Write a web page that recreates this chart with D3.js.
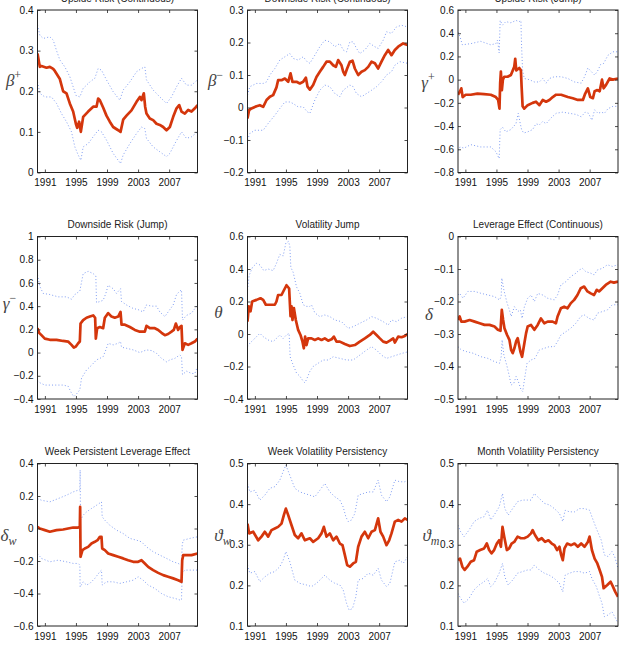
<!DOCTYPE html>
<html>
<head>
<meta charset="utf-8">
<script src="https://cdnjs.cloudflare.com/ajax/libs/d3/7.8.5/d3.min.js"></script>
<style>
  body { margin: 0; background: #fff; }
</style>
</head>
<body>
<div id="chart"></div>
<script>
// x ticks shared by every panel
const yearTicks = [1991, 1995, 1999, 2003, 2007];
const yearDomain = [1990.05, 2010.65];

const titles = [
  "Upside Risk (Continuous)", "Downside Risk (Continuous)", "Upside Risk (Jump)",
  "Downside Risk (Jump)", "Volatility Jump", "Leverage Effect (Continuous)",
  "Week Persistent Leverage Effect", "Week Volatility Persistency", "Month Volatility Persistency"
];

// y tick labels per panel
const ticksBetaPlus = [0, 0.1, 0.2, 0.3, 0.4];
const ticksBetaMinus = [-0.2, -0.1, 0, 0.1, 0.2, 0.3];
const ticksGammaPlus = [-0.8, -0.6, -0.4, -0.2, 0, 0.2, 0.4, 0.6];
const ticksGammaMinus = [-0.4, -0.2, 0, 0.2, 0.4, 0.6, 0.8, 1];
const ticksTheta = [-0.4, -0.2, 0, 0.2, 0.4, 0.6];
const ticksDelta = [-0.5, -0.4, -0.3, -0.2, -0.1, 0];
const ticksDeltaW = [-0.6, -0.4, -0.2, 0, 0.2, 0.4];
const ticksVarthW = [0.1, 0.2, 0.3, 0.4, 0.5];
const ticksVarthM = [0.1, 0.2, 0.3, 0.4, 0.5];

// series: [year, value] -- estimate (red) and upper / lower bands (blue dots)
const betaPlusEst = [[1990.05,0.293],[1990.35,0.26],[1990.56,0.262],[1991.21,0.258],[1991.64,0.26],[1992.07,0.255],[1992.28,0.25],[1992.93,0.23],[1993.35,0.2],[1993.78,0.195],[1994.21,0.17],[1994.64,0.15],[1994.99,0.12],[1995.16,0.11],[1995.41,0.125],[1995.63,0.1],[1995.93,0.137],[1996.57,0.15],[1997.22,0.162],[1997.65,0.162],[1997.86,0.182],[1998.08,0.178],[1998.5,0.16],[1998.93,0.14],[1999.36,0.125],[1999.79,0.112],[2000.44,0.104],[2000.74,0.1],[2001.08,0.13],[2001.51,0.14],[2002.15,0.153],[2002.8,0.174],[2003.23,0.186],[2003.44,0.178],[2003.74,0.195],[2003.91,0.162],[2004.08,0.145],[2004.51,0.133],[2004.94,0.129],[2005.37,0.12],[2005.8,0.117],[2006.23,0.112],[2006.66,0.104],[2007.09,0.112],[2007.52,0.137],[2007.95,0.158],[2008.29,0.166],[2008.59,0.15],[2009.02,0.145],[2009.45,0.154],[2009.88,0.15],[2010.31,0.158],[2010.65,0.166]];
const betaPlusHi = [[1990.05,0.363],[1990.35,0.338],[1990.78,0.33],[1991.64,0.334],[1992.07,0.326],[1992.5,0.3],[1992.93,0.277],[1993.57,0.26],[1994.21,0.236],[1994.64,0.211],[1994.99,0.19],[1995.5,0.186],[1995.93,0.207],[1996.79,0.223],[1997.43,0.232],[1997.86,0.256],[1998.29,0.252],[1998.93,0.228],[1999.79,0.199],[2000.65,0.178],[2001.08,0.203],[2001.94,0.223],[2002.8,0.248],[2003.44,0.256],[2003.87,0.26],[2004.08,0.228],[2004.94,0.203],[2005.8,0.186],[2006.66,0.17],[2007.3,0.186],[2007.95,0.211],[2008.59,0.232],[2009.23,0.215],[2009.88,0.215],[2010.65,0.228]];
const betaPlusLo = [[1990.05,0.223],[1990.35,0.195],[1990.99,0.186],[1991.85,0.186],[1992.5,0.17],[1993.14,0.145],[1993.78,0.125],[1994.43,0.1],[1994.86,0.063],[1995.29,0.043],[1995.63,0.03],[1995.93,0.063],[1996.57,0.071],[1997.22,0.088],[1997.86,0.104],[1998.29,0.1],[1998.93,0.08],[1999.79,0.047],[2000.44,0.03],[2000.74,0.022],[2001.08,0.043],[2001.94,0.071],[2002.8,0.096],[2003.44,0.112],[2003.87,0.108],[2004.08,0.084],[2004.94,0.063],[2005.8,0.051],[2006.66,0.039],[2007.09,0.047],[2007.73,0.071],[2008.59,0.1],[2009.23,0.084],[2009.88,0.088],[2010.65,0.1]];

const betaMinusEst = [[1990.05,-0.034],[1990.26,-0.008],[1990.56,-0.003],[1991.21,0.004],[1991.64,0.007],[1992.07,0.002],[1992.5,0.023],[1992.93,0.033],[1993.35,0.038],[1993.78,0.062],[1993.99,0.084],[1994.43,0.084],[1994.86,0.089],[1995.29,0.079],[1995.59,0.105],[1995.84,0.079],[1996.36,0.079],[1996.79,0.074],[1997.22,0.079],[1997.56,0.092],[1997.78,0.064],[1998.08,0.055],[1998.5,0.069],[1998.93,0.094],[1999.36,0.11],[1999.79,0.125],[2000.22,0.141],[2000.65,0.141],[2001.08,0.13],[2001.43,0.125],[2001.72,0.146],[2002.15,0.13],[2002.37,0.11],[2002.58,0.1],[2002.88,0.12],[2003.23,0.141],[2003.57,0.144],[2003.87,0.12],[2004.3,0.1],[2004.73,0.11],[2005.16,0.115],[2005.59,0.125],[2006.02,0.141],[2006.45,0.136],[2006.87,0.12],[2007.3,0.141],[2007.73,0.161],[2008.16,0.177],[2008.59,0.161],[2009.02,0.177],[2009.45,0.187],[2010.09,0.197],[2010.65,0.192]];
const betaMinusHi = [[1990.05,0.038],[1990.35,0.064],[1991.21,0.074],[1992.07,0.074],[1992.5,0.079],[1992.93,0.1],[1993.57,0.12],[1994.21,0.146],[1994.86,0.156],[1995.5,0.166],[1995.93,0.151],[1996.57,0.146],[1997.22,0.156],[1997.73,0.141],[1998.08,0.136],[1998.72,0.161],[1999.36,0.187],[2000.0,0.207],[2000.65,0.202],[2001.3,0.187],[2001.94,0.197],[2002.37,0.177],[2002.8,0.171],[2003.23,0.202],[2003.65,0.202],[2004.08,0.182],[2004.51,0.166],[2005.16,0.177],[2005.8,0.197],[2006.45,0.187],[2006.87,0.182],[2007.52,0.207],[2007.95,0.233],[2008.59,0.228],[2009.23,0.248],[2009.88,0.253],[2010.65,0.248]];
const betaMinusLo = [[1990.05,-0.1],[1990.35,-0.08],[1990.99,-0.07],[1992.07,-0.07],[1992.71,-0.049],[1993.57,-0.024],[1994.21,-0.003],[1994.86,0.017],[1995.5,0.017],[1995.93,0.012],[1996.57,0.002],[1997.22,0.002],[1997.73,-0.013],[1998.08,-0.018],[1998.72,0.023],[1999.36,0.053],[2000.0,0.069],[2000.65,0.064],[2001.3,0.043],[2001.94,0.033],[2002.37,0.053],[2003.23,0.069],[2003.65,0.064],[2004.08,0.043],[2004.73,0.033],[2005.37,0.043],[2006.02,0.053],[2006.66,0.064],[2007.3,0.079],[2007.95,0.1],[2008.59,0.11],[2009.02,0.13],[2009.66,0.141],[2010.65,0.136]];

const gammaPlusEst = [[1990.05,-0.13],[1990.31,-0.1],[1990.48,-0.075],[1990.65,-0.15],[1991.04,-0.13],[1991.69,-0.13],[1992.55,-0.12],[1993.41,-0.125],[1994.27,-0.13],[1994.92,-0.15],[1995.22,-0.175],[1995.39,-0.25],[1995.48,-0.03],[1995.57,0.07],[1995.7,-0.09],[1995.83,0],[1996.0,0.025],[1996.43,0.025],[1996.86,0.04],[1997.29,0.11],[1997.42,0.18],[1997.55,0.08],[1997.94,0.1],[1998.15,0.08],[1998.24,-0.06],[1998.37,-0.23],[1998.58,-0.25],[1999.02,-0.22],[1999.66,-0.2],[2000.09,-0.19],[2000.52,-0.22],[2000.96,-0.175],[2001.39,-0.19],[2001.82,-0.175],[2002.25,-0.15],[2002.68,-0.13],[2003.33,-0.13],[2004.19,-0.15],[2004.83,-0.16],[2005.48,-0.175],[2006.13,-0.175],[2006.43,-0.12],[2006.77,-0.075],[2007.08,-0.15],[2007.42,-0.16],[2007.64,-0.1],[2007.99,-0.09],[2008.29,-0.1],[2008.59,0],[2008.8,-0.075],[2009.11,-0.045],[2009.57,0.01],[2010.0,0],[2010.65,0.01]];
const gammaPlusHi = [[1990.05,0.41],[1990.31,0.37],[1990.61,0.3],[1991.69,0.31],[1992.98,0.33],[1994.27,0.3],[1994.92,0.31],[1995.14,0.34],[1995.35,0.23],[1995.48,0.51],[1995.78,0.47],[1996.21,0.5],[1996.86,0.49],[1997.51,0.51],[1997.94,0.5],[1998.15,0.51],[1998.24,0.28],[1998.37,0.08],[1998.58,0.01],[1999.23,0],[1999.88,-0.02],[2000.52,-0.02],[2000.96,0.01],[2001.39,-0.03],[2001.82,0.01],[2002.46,0.025],[2003.33,0.025],[2004.19,0.01],[2005.05,-0.02],[2005.91,-0.03],[2006.34,0.025],[2006.77,0.1],[2007.2,0.07],[2007.64,0.04],[2007.99,0.07],[2008.41,0.13],[2008.8,0.14],[2009.36,0.21],[2010.0,0.24],[2010.65,0.24]];
const gammaPlusLo = [[1990.05,-0.61],[1990.31,-0.58],[1990.83,-0.59],[1991.69,-0.56],[1992.98,-0.58],[1994.27,-0.58],[1994.92,-0.62],[1995.35,-0.68],[1995.48,-0.43],[1995.78,-0.41],[1996.21,-0.45],[1996.86,-0.43],[1997.51,-0.38],[1997.81,-0.29],[1998.07,-0.38],[1998.24,-0.43],[1998.5,-0.46],[1999.02,-0.45],[1999.66,-0.43],[2000.09,-0.38],[2000.52,-0.39],[2000.96,-0.36],[2001.39,-0.38],[2002.03,-0.33],[2002.68,-0.29],[2003.54,-0.28],[2004.4,-0.29],[2005.27,-0.3],[2005.91,-0.32],[2006.43,-0.28],[2006.85,-0.29],[2007.29,-0.35],[2007.64,-0.26],[2008.07,-0.29],[2008.5,-0.28],[2008.9,-0.29],[2009.36,-0.25],[2010.0,-0.23],[2010.65,-0.23]];

const gammaMinusEst = [[1990.05,0.21],[1990.26,0.17],[1990.56,0.15],[1990.99,0.12],[1991.64,0.11],[1992.5,0.11],[1993.35,0.1],[1993.99,0.095],[1994.43,0.066],[1994.73,0.043],[1994.99,0.052],[1995.29,0.08],[1995.5,0.095],[1995.59,0.25],[1995.93,0.28],[1996.36,0.3],[1996.79,0.31],[1997.22,0.32],[1997.47,0.3],[1997.56,0.12],[1997.73,0.21],[1998.08,0.22],[1998.5,0.21],[1998.72,0.3],[1998.93,0.32],[1999.15,0.34],[1999.58,0.31],[2000.0,0.3],[2000.44,0.31],[2000.74,0.35],[2000.87,0.24],[2001.3,0.24],[2001.94,0.22],[2002.58,0.195],[2003.23,0.18],[2003.87,0.18],[2004.08,0.23],[2004.51,0.21],[2005.16,0.21],[2005.59,0.195],[2006.02,0.17],[2006.45,0.15],[2006.87,0.16],[2007.3,0.18],[2007.6,0.195],[2007.86,0.25],[2008.16,0.195],[2008.38,0.22],[2008.59,0.23],[2008.72,0.023],[2009.02,0.08],[2009.45,0.066],[2009.88,0.08],[2010.31,0.095],[2010.65,0.12]];
const gammaMinusHi = [[1990.05,0.67],[1990.35,0.57],[1990.78,0.51],[1991.64,0.5],[1992.71,0.48],[1993.78,0.48],[1994.43,0.46],[1994.86,0.5],[1995.5,0.53],[1995.93,0.68],[1996.57,0.7],[1997.22,0.68],[1997.56,0.66],[1997.65,0.43],[1998.08,0.44],[1998.5,0.45],[1998.85,0.51],[1999.15,0.58],[1999.79,0.55],[2000.22,0.51],[2000.74,0.55],[2000.87,0.44],[2001.51,0.41],[2002.37,0.38],[2003.01,0.37],[2003.65,0.35],[2004.08,0.41],[2004.73,0.4],[2005.37,0.4],[2005.8,0.35],[2006.45,0.31],[2006.87,0.35],[2007.52,0.41],[2007.95,0.5],[2008.38,0.53],[2008.59,0.54],[2008.72,0.28],[2009.23,0.32],[2009.88,0.34],[2010.65,0.41]];
const gammaMinusLo = [[1990.05,-0.24],[1990.35,-0.26],[1990.99,-0.28],[1992.07,-0.28],[1993.35,-0.28],[1993.99,-0.29],[1994.43,-0.35],[1994.73,-0.38],[1995.16,-0.35],[1995.5,-0.32],[1995.72,-0.22],[1996.36,-0.15],[1997.0,-0.11],[1997.65,-0.063],[1998.08,-0.05],[1998.5,-0.035],[1998.85,0.023],[1999.15,0.08],[1999.79,0.066],[2000.44,0.08],[2000.74,0.095],[2000.87,0.046],[2001.51,0.037],[2002.37,0.023],[2003.23,0],[2004.08,0.023],[2004.73,0.017],[2005.37,-0.006],[2006.02,-0.05],[2006.66,-0.08],[2007.09,-0.063],[2007.73,-0.05],[2008.38,-0.02],[2008.59,-0.035],[2008.72,-0.19],[2009.23,-0.16],[2009.88,-0.18],[2010.31,-0.18],[2010.65,-0.12]];

const thetaEst = [[1990.05,0.076],[1990.22,0.17],[1990.44,0.14],[1990.65,0.2],[1991.21,0.21],[1991.72,0.22],[1992.07,0.21],[1992.41,0.18],[1992.93,0.18],[1993.57,0.18],[1993.78,0.2],[1993.99,0.24],[1994.43,0.24],[1994.64,0.26],[1995.07,0.3],[1995.41,0.28],[1995.59,0.11],[1995.72,0.17],[1995.84,0.086],[1996.02,0.16],[1996.27,0.086],[1996.57,0.025],[1996.87,-0.006],[1997.13,-0.047],[1997.3,-0.088],[1997.47,-0.016],[1997.65,-0.068],[1997.86,-0.027],[1998.29,-0.027],[1998.72,-0.037],[1999.15,-0.027],[1999.58,-0.037],[2000.0,-0.027],[2000.44,-0.041],[2000.87,-0.033],[2001.17,-0.016],[2001.51,-0.047],[2001.94,-0.047],[2002.58,-0.062],[2003.23,-0.074],[2003.87,-0.068],[2004.51,-0.047],[2005.16,-0.027],[2005.8,-0.006],[2006.23,0.014],[2006.66,-0.006],[2007.09,-0.027],[2007.52,-0.047],[2007.95,-0.053],[2008.38,-0.041],[2008.81,-0.027],[2009.02,-0.053],[2009.45,-0.016],[2009.88,-0.02],[2010.31,-0.012],[2010.65,0]];
const thetaHi = [[1990.05,0.27],[1990.26,0.36],[1990.69,0.41],[1991.21,0.435],[1991.64,0.425],[1992.15,0.39],[1992.71,0.4],[1993.35,0.39],[1993.78,0.435],[1994.21,0.49],[1994.64,0.48],[1994.99,0.56],[1995.33,0.57],[1995.5,0.54],[1995.63,0.41],[1995.93,0.38],[1996.36,0.29],[1996.79,0.25],[1997.22,0.18],[1997.65,0.17],[1998.08,0.17],[1998.29,0.18],[1998.72,0.13],[1999.36,0.107],[2000.0,0.117],[2000.65,0.107],[2001.3,0.086],[2002.15,0.076],[2003.01,0.035],[2003.65,0.045],[2004.51,0.066],[2005.37,0.086],[2006.02,0.107],[2006.66,0.097],[2007.52,0.076],[2008.16,0.055],[2008.59,0.086],[2009.23,0.076],[2009.88,0.097],[2010.65,0.107]];
const thetaLo = [[1990.05,-0.078],[1990.35,-0.057],[1990.99,-0.027],[1991.64,0.004],[1992.07,-0.016],[1992.71,-0.037],[1993.35,-0.047],[1993.78,-0.027],[1994.21,-0.006],[1994.64,-0.027],[1995.07,-0.006],[1995.41,0.004],[1995.54,-0.14],[1995.84,-0.18],[1996.36,-0.24],[1996.79,-0.26],[1997.22,-0.29],[1997.43,-0.3],[1997.65,-0.28],[1998.08,-0.23],[1998.5,-0.2],[1999.15,-0.18],[1999.79,-0.16],[2000.44,-0.16],[2001.08,-0.14],[2001.94,-0.15],[2002.8,-0.16],[2003.65,-0.16],[2004.51,-0.13],[2005.37,-0.099],[2006.02,-0.078],[2006.66,-0.099],[2007.3,-0.13],[2007.95,-0.15],[2008.59,-0.14],[2009.23,-0.13],[2009.88,-0.12],[2010.65,-0.11]];

const deltaEst = [[1990.05,-0.257],[1990.26,-0.246],[1990.48,-0.262],[1990.9,-0.262],[1991.55,-0.257],[1992.19,-0.262],[1992.83,-0.267],[1993.47,-0.272],[1994.11,-0.272],[1994.75,-0.277],[1995.18,-0.287],[1995.52,-0.29],[1995.69,-0.226],[1995.86,-0.257],[1996.03,-0.282],[1996.37,-0.303],[1996.67,-0.318],[1996.89,-0.349],[1997.1,-0.359],[1997.31,-0.344],[1997.53,-0.323],[1997.74,-0.313],[1998.08,-0.354],[1998.3,-0.37],[1998.6,-0.328],[1998.81,-0.298],[1999.02,-0.277],[1999.45,-0.272],[1999.88,-0.287],[2000.31,-0.272],[2000.73,-0.252],[2001.16,-0.267],[2001.59,-0.262],[2002.23,-0.262],[2002.66,-0.267],[2002.87,-0.246],[2003.3,-0.221],[2003.72,-0.216],[2004.15,-0.221],[2004.58,-0.205],[2005.01,-0.195],[2005.43,-0.18],[2005.86,-0.159],[2006.29,-0.154],[2006.72,-0.169],[2007.14,-0.175],[2007.57,-0.18],[2007.91,-0.164],[2008.21,-0.169],[2008.64,-0.159],[2009.07,-0.149],[2009.71,-0.139],[2010.13,-0.142],[2010.65,-0.139]];
const deltaHi = [[1990.05,-0.18],[1990.26,-0.175],[1990.69,-0.19],[1991.33,-0.169],[1992.19,-0.169],[1993.04,-0.175],[1993.9,-0.18],[1994.75,-0.185],[1995.39,-0.195],[1995.61,-0.185],[1995.69,-0.128],[1995.95,-0.164],[1996.37,-0.205],[1996.67,-0.226],[1996.89,-0.246],[1997.31,-0.216],[1997.74,-0.231],[1998.08,-0.226],[1998.3,-0.252],[1998.6,-0.216],[1999.02,-0.19],[1999.45,-0.18],[1999.88,-0.2],[2000.31,-0.175],[2000.95,-0.18],[2001.59,-0.19],[2002.44,-0.195],[2002.87,-0.18],[2003.3,-0.149],[2003.94,-0.139],[2004.58,-0.123],[2005.22,-0.113],[2005.65,-0.103],[2006.07,-0.098],[2006.5,-0.108],[2007.14,-0.113],[2007.57,-0.118],[2008.0,-0.103],[2008.64,-0.098],[2009.28,-0.087],[2009.92,-0.092],[2010.65,-0.087]];
const deltaLo = [[1990.05,-0.339],[1990.48,-0.349],[1991.12,-0.354],[1991.97,-0.359],[1993.04,-0.37],[1993.9,-0.375],[1994.75,-0.385],[1995.39,-0.39],[1995.61,-0.37],[1995.73,-0.318],[1995.95,-0.364],[1996.37,-0.4],[1996.67,-0.431],[1996.89,-0.457],[1997.23,-0.452],[1997.53,-0.431],[1997.83,-0.447],[1998.17,-0.472],[1998.38,-0.477],[1998.6,-0.441],[1998.94,-0.39],[1999.45,-0.38],[1999.96,-0.375],[2000.52,-0.349],[2001.16,-0.344],[2001.8,-0.339],[2002.44,-0.339],[2002.87,-0.323],[2003.3,-0.303],[2003.94,-0.293],[2004.58,-0.282],[2005.22,-0.267],[2005.86,-0.246],[2006.29,-0.241],[2006.93,-0.252],[2007.57,-0.257],[2008.0,-0.236],[2008.64,-0.231],[2009.28,-0.226],[2009.92,-0.21],[2010.65,-0.21]];

const deltaWEst = [[1990.05,0.01],[1990.35,0],[1990.99,-0.01],[1991.64,-0.02],[1992.5,-0.01],[1993.35,-0.006],[1993.99,0],[1994.64,0.006],[1995.29,0.006],[1995.5,0.01],[1995.54,0.133],[1995.59,-0.174],[1995.84,-0.133],[1996.14,-0.123],[1996.57,-0.113],[1997.0,-0.092],[1997.43,-0.082],[1997.78,-0.072],[1998.08,-0.051],[1998.29,-0.051],[1998.38,-0.123],[1998.72,-0.133],[1999.15,-0.154],[1999.79,-0.164],[2000.44,-0.174],[2001.08,-0.184],[2001.72,-0.195],[2002.37,-0.205],[2003.01,-0.205],[2003.44,-0.195],[2003.87,-0.215],[2004.3,-0.236],[2004.94,-0.256],[2005.59,-0.273],[2006.23,-0.287],[2006.87,-0.297],[2007.52,-0.307],[2008.16,-0.318],[2008.59,-0.328],[2008.68,-0.195],[2008.81,-0.164],[2009.23,-0.164],[2009.88,-0.164],[2010.65,-0.154]];
const deltaWHi = [[1990.05,0.184],[1990.56,0.174],[1991.64,0.164],[1992.71,0.184],[1993.78,0.205],[1994.64,0.225],[1995.29,0.236],[1995.5,0.236],[1995.54,0.36],[1995.59,0.051],[1995.93,0.082],[1996.36,0.102],[1997.0,0.123],[1997.65,0.143],[1998.29,0.164],[1998.38,0.072],[1998.72,0.051],[1999.36,0.02],[2000.22,-0.01],[2001.08,-0.031],[2001.94,-0.061],[2002.8,-0.072],[2003.44,-0.082],[2004.08,-0.113],[2004.94,-0.143],[2005.8,-0.164],[2006.66,-0.184],[2007.52,-0.205],[2008.16,-0.215],[2008.59,-0.225],[2008.68,-0.102],[2008.81,-0.072],[2009.66,-0.061],[2010.65,-0.051]];
const deltaWLo = [[1990.05,-0.154],[1990.56,-0.184],[1991.64,-0.205],[1992.71,-0.195],[1993.78,-0.205],[1994.64,-0.215],[1995.29,-0.215],[1995.5,-0.225],[1995.54,-0.36],[1995.93,-0.328],[1996.36,-0.348],[1996.79,-0.338],[1997.43,-0.307],[1998.08,-0.266],[1998.29,-0.256],[1998.38,-0.348],[1998.93,-0.328],[1999.79,-0.328],[2000.65,-0.338],[2001.51,-0.328],[2002.37,-0.318],[2003.01,-0.297],[2003.65,-0.318],[2004.3,-0.348],[2005.16,-0.369],[2006.02,-0.4],[2006.87,-0.42],[2007.73,-0.43],[2008.38,-0.44],[2008.59,-0.44],[2008.68,-0.277],[2009.02,-0.256],[2009.88,-0.256],[2010.65,-0.256]];

const varthWEst = [[1990.05,0.352],[1990.26,0.328],[1990.78,0.332],[1991.42,0.311],[1991.85,0.32],[1992.28,0.332],[1992.71,0.32],[1993.14,0.336],[1993.57,0.34],[1993.99,0.344],[1994.43,0.352],[1994.73,0.373],[1994.99,0.389],[1995.29,0.373],[1995.72,0.348],[1996.14,0.324],[1996.57,0.316],[1997.0,0.328],[1997.43,0.311],[1998.08,0.316],[1998.5,0.307],[1999.15,0.316],[1999.58,0.328],[1999.88,0.344],[2000.22,0.32],[2000.65,0.328],[2001.08,0.311],[2001.51,0.32],[2001.94,0.303],[2002.28,0.299],[2002.58,0.275],[2002.88,0.25],[2003.23,0.246],[2003.65,0.254],[2004.0,0.258],[2004.3,0.295],[2004.73,0.32],[2005.16,0.332],[2005.59,0.316],[2006.02,0.332],[2006.45,0.336],[2006.87,0.365],[2007.17,0.332],[2007.52,0.32],[2007.95,0.299],[2008.29,0.311],[2008.59,0.328],[2009.02,0.357],[2009.45,0.361],[2009.88,0.357],[2010.31,0.365],[2010.65,0.361]];
const varthWHi = [[1990.05,0.451],[1990.35,0.43],[1990.99,0.434],[1991.64,0.41],[1992.28,0.422],[1992.93,0.439],[1993.57,0.443],[1994.21,0.459],[1994.64,0.48],[1994.99,0.496],[1995.5,0.471],[1996.14,0.439],[1996.79,0.43],[1997.43,0.426],[1998.08,0.422],[1998.72,0.418],[1999.36,0.434],[2000.0,0.451],[2000.65,0.43],[2001.3,0.418],[2001.94,0.41],[2002.37,0.393],[2002.71,0.369],[2003.01,0.357],[2003.44,0.361],[2003.87,0.377],[2004.3,0.422],[2004.94,0.426],[2005.59,0.43],[2006.23,0.43],[2006.87,0.459],[2007.3,0.422],[2007.95,0.406],[2008.38,0.418],[2009.02,0.459],[2009.66,0.455],[2010.31,0.455],[2010.65,0.459]];
const varthWLo = [[1990.05,0.25],[1990.35,0.23],[1990.99,0.234],[1991.64,0.209],[1992.28,0.221],[1992.93,0.23],[1993.57,0.234],[1994.21,0.246],[1994.64,0.262],[1994.99,0.283],[1995.5,0.258],[1996.14,0.213],[1996.79,0.205],[1997.65,0.201],[1998.29,0.197],[1998.93,0.205],[2000.0,0.225],[2000.65,0.213],[2001.3,0.205],[2001.94,0.201],[2002.37,0.189],[2002.8,0.156],[2003.14,0.139],[2003.57,0.143],[2004.0,0.172],[2004.3,0.213],[2004.94,0.217],[2005.59,0.23],[2006.23,0.225],[2006.87,0.242],[2007.3,0.213],[2007.95,0.197],[2008.38,0.205],[2009.02,0.258],[2009.66,0.262],[2010.09,0.254],[2010.65,0.27]];

const varthMEst = [[1990.05,0.262],[1990.31,0.266],[1990.61,0.246],[1990.91,0.238],[1991.26,0.246],[1991.69,0.258],[1992.12,0.262],[1992.46,0.283],[1992.9,0.287],[1993.41,0.291],[1993.76,0.303],[1994.06,0.287],[1994.36,0.279],[1994.7,0.287],[1995.05,0.303],[1995.35,0.311],[1995.57,0.295],[1995.78,0.344],[1996.0,0.32],[1996.34,0.287],[1996.64,0.291],[1996.95,0.303],[1997.29,0.307],[1997.72,0.32],[1998.15,0.316],[1998.58,0.316],[1999.02,0.32],[1999.45,0.328],[1999.66,0.336],[1999.96,0.324],[2000.39,0.311],[2000.83,0.316],[2001.26,0.307],[2001.69,0.311],[2002.12,0.303],[2002.46,0.299],[2002.81,0.287],[2003.11,0.295],[2003.33,0.275],[2003.54,0.262],[2003.76,0.291],[2004.1,0.303],[2004.62,0.299],[2005.05,0.303],[2005.48,0.295],[2005.91,0.303],[2006.34,0.295],[2006.77,0.307],[2006.99,0.32],[2007.29,0.287],[2007.64,0.266],[2007.99,0.254],[2008.29,0.238],[2008.59,0.221],[2008.8,0.193],[2009.27,0.201],[2009.7,0.209],[2010.0,0.197],[2010.3,0.184],[2010.65,0.172]];
const varthMHi = [[1990.05,0.348],[1990.39,0.332],[1990.83,0.32],[1991.47,0.336],[1992.12,0.357],[1992.77,0.365],[1993.41,0.369],[1993.84,0.385],[1994.27,0.361],[1994.7,0.373],[1995.35,0.393],[1995.78,0.426],[1996.08,0.389],[1996.52,0.373],[1997.08,0.389],[1997.72,0.406],[1998.37,0.41],[1999.02,0.41],[1999.45,0.41],[1999.88,0.426],[2000.52,0.414],[2001.17,0.402],[2001.82,0.398],[2002.46,0.389],[2003.11,0.377],[2003.54,0.357],[2003.84,0.385],[2004.4,0.381],[2005.05,0.381],[2005.7,0.389],[2006.34,0.389],[2006.99,0.385],[2007.29,0.369],[2007.86,0.34],[2008.5,0.311],[2008.9,0.275],[2009.36,0.271],[2009.87,0.283],[2010.22,0.271],[2010.65,0.242]];
const varthMLo = [[1990.05,0.18],[1990.39,0.168],[1990.83,0.156],[1991.47,0.168],[1992.12,0.189],[1992.77,0.201],[1993.41,0.209],[1993.84,0.217],[1994.27,0.197],[1994.7,0.205],[1995.35,0.23],[1995.78,0.254],[1996.08,0.221],[1996.52,0.201],[1997.08,0.213],[1997.72,0.23],[1998.37,0.234],[1999.02,0.238],[1999.45,0.238],[1999.88,0.25],[2000.52,0.238],[2001.17,0.23],[2001.82,0.225],[2002.46,0.217],[2003.11,0.205],[2003.54,0.184],[2003.84,0.225],[2004.4,0.23],[2005.05,0.234],[2005.7,0.234],[2006.34,0.23],[2006.99,0.234],[2007.29,0.217],[2007.86,0.197],[2008.29,0.172],[2008.59,0.156],[2008.9,0.123],[2009.36,0.127],[2009.87,0.135],[2010.22,0.123],[2010.65,0.107]];

// panel list: symbol text for the y label
const panels = [
  {sym: "β", sup: "+", ticks: ticksBetaPlus, est: betaPlusEst, hi: betaPlusHi, lo: betaPlusLo},
  {sym: "β", sup: "−", ticks: ticksBetaMinus, est: betaMinusEst, hi: betaMinusHi, lo: betaMinusLo},
  {sym: "γ", sup: "+", ticks: ticksGammaPlus, est: gammaPlusEst, hi: gammaPlusHi, lo: gammaPlusLo},
  {sym: "γ", sup: "−", ticks: ticksGammaMinus, est: gammaMinusEst, hi: gammaMinusHi, lo: gammaMinusLo},
  {sym: "θ", ticks: ticksTheta, est: thetaEst, hi: thetaHi, lo: thetaLo},
  {sym: "δ", ticks: ticksDelta, est: deltaEst, hi: deltaHi, lo: deltaLo},
  {sym: "δ", sub: "w", ticks: ticksDeltaW, est: deltaWEst, hi: deltaWHi, lo: deltaWLo},
  {sym: "ϑ", sub: "w", ticks: ticksVarthW, est: varthWEst, hi: varthWHi, lo: varthWLo},
  {sym: "ϑ", sub: "m", ticks: ticksVarthM, est: varthMEst, hi: varthMHi, lo: varthMLo}
];

// layout
const colX = [37.5, 247.5, 458], rowY = [10, 236.5, 463.5];
const W = 160, H = 162.5;
// y label placement (distance left of axis, shift from middle)
const labelDx = [24, 32, 30, 28, 29, 29, 29, 25, 27];
const labelDy = [-5, -5, -3, -9, 0, 2, -4, -4, -4];

const fmt = v => (v < 0 ? "\u2212" : "") + String(Math.abs(v));

const svg = d3.select("#chart").append("svg")
  .attr("width", 624)
  .attr("height", 655);

const x = d3.scaleLinear().domain(yearDomain).range([0, W]);

panels.forEach(function(p, i) {
  const g = svg.append("g")
    .attr("transform", "translate(" + colX[i % 3] + "," + rowY[Math.floor(i / 3)] + ")");

  const y = d3.scaleLinear()
    .domain([p.ticks[0], p.ticks[p.ticks.length - 1]])
    .range([H, 0]);

  g.append("clipPath").attr("id", "clip" + i)
    .append("rect").attr("width", W).attr("height", H);

  const line = d3.line()
    .x(d => x(d[0]))
    .y(d => y(d[1]));

  const plot = g.append("g").attr("clip-path", "url(#clip" + i + ")");

  [p.hi, p.lo].forEach(function(band) {
    plot.append("path")
      .datum(band)
      .attr("d", line)
      .attr("fill", "none")
      .attr("stroke", "#5a80ee")
      .attr("stroke-opacity", 0.85)
      .attr("stroke-width", 0.9)
      .attr("stroke-dasharray", "1 2.2");
  });

  plot.append("path")
    .datum(p.est)
    .attr("d", line)
    .attr("fill", "none")
    .attr("stroke", "#d4360c")
    .attr("stroke-width", 2.7)
    .attr("stroke-linejoin", "round");

  // axes, MATLAB style: ticks pointing inwards on all four sides
  const axL = g.append("g")
    .call(d3.axisLeft(y).tickValues(p.ticks).tickSize(-3).tickPadding(4).tickFormat(fmt));
  g.append("g").attr("transform", "translate(" + W + ",0)")
    .call(d3.axisRight(y).tickValues(p.ticks).tickSize(-3).tickFormat(""));
  const axB = g.append("g").attr("transform", "translate(0," + H + ")")
    .call(d3.axisBottom(x).tickValues(yearTicks).tickSize(-3).tickPadding(6.5).tickFormat(d3.format("d")));
  g.append("g")
    .call(d3.axisTop(x).tickValues(yearTicks).tickSize(-3).tickFormat(""));

  g.selectAll(".domain").remove();
  g.selectAll(".tick line").attr("stroke", "#222").attr("stroke-width", 0.8);
  [axL, axB].forEach(a => a.selectAll("text")
    .attr("fill", "#111")
    .style("font-family", "'Liberation Sans', Arial, sans-serif")
    .style("font-size", "10px"));

  g.append("rect")
    .attr("width", W).attr("height", H)
    .attr("fill", "none")
    .attr("stroke", "#222")
    .attr("stroke-width", 1);

  g.append("text")
    .attr("x", W / 2).attr("y", -8.5)
    .attr("text-anchor", "middle")
    .attr("fill", "#222")
    .style("font-family", "'Liberation Sans', Arial, sans-serif")
    .style("font-size", "10px")
    .text(titles[i]);

  const lab = g.append("text")
    .attr("x", -labelDx[i]).attr("y", H / 2 + labelDy[i])
    .attr("text-anchor", "middle")
    .attr("fill", "#444")
    .style("font-family", "'Liberation Serif', serif")
    .style("font-style", "italic")
    .style("font-size", "17px");
  lab.append("tspan").text(p.sym);
  if (p.sup) lab.append("tspan").attr("dy", -7).style("font-size", "12px").style("font-style", "normal").text(p.sup);
  if (p.sub) lab.append("tspan").attr("dy", 4).style("font-size", "12px").text(p.sub);
});
</script>
</body>
</html>
